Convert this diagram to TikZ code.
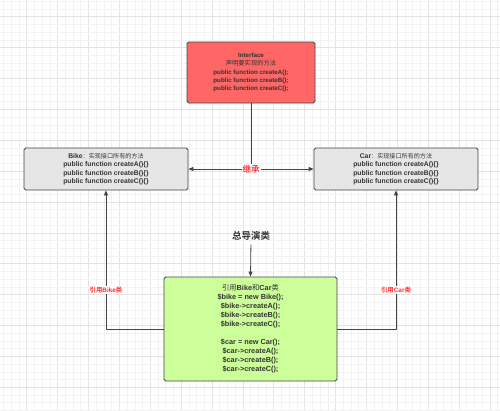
\documentclass[tikz,border=0pt]{standalone}
\usepackage{fontspec}
\setmainfont{Liberation Sans}
\newfontfamily\cjk{Noto Sans CJK SC}[BoldFont={Noto Sans CJK SC Bold}]
\usetikzlibrary{arrows.meta}
\definecolor{ink}{HTML}{333333}
\definecolor{edge}{HTML}{444444}
\definecolor{redfill}{HTML}{FF6666}
\definecolor{grayfill}{HTML}{E6E6E6}
\definecolor{greenfill}{HTML}{CCFF99}
\definecolor{lblred}{HTML}{FF3333}
\definecolor{gridminor}{HTML}{F2F2F2}
\definecolor{gridmajor}{HTML}{E4E4E4}
\begin{document}
\begin{tikzpicture}[x=1pt,y=-1pt,
  box/.style={draw=edge, line width=0.8pt, rounded corners=1.8pt, align=center,
    inner sep=0pt, text=ink},
  conn/.style={draw=edge, line width=0.8pt},
  tip/.style={-{Triangle[length=5pt,width=4pt]}},
  lbl/.style={fill=white, text=lblred, inner sep=1pt, font=\bfseries\fontsize{6.4}{7}\selectfont}]
\useasboundingbox (0,0) rectangle (500,410);
\fill[white] (0,0) rectangle (500,410);
% grid
\foreach \k in {-3,...,61} {
  \pgfmathsetmacro{\xx}{26.7+\k*7.72}
  \pgfmathtruncatemacro{\m}{mod(\k+40,4)}
  \ifnum\m=0 \draw[gridmajor,line width=0.5pt] (\xx,0) -- (\xx,410);
  \else \draw[gridminor,line width=0.5pt] (\xx,0) -- (\xx,410); \fi
}
\foreach \k in {-2,...,51} {
  \pgfmathsetmacro{\yy}{16.7+\k*7.72}
  \pgfmathtruncatemacro{\m}{mod(\k+40,4)}
  \ifnum\m=0 \draw[gridmajor,line width=0.5pt] (0,\yy) -- (500,\yy);
  \else \draw[gridminor,line width=0.5pt] (0,\yy) -- (500,\yy); \fi
}
% boxes
\node[box, fill=redfill, minimum width=128pt, minimum height=61pt,
  font=\bfseries\fontsize{6.2}{8.2}\selectfont] (iface) at (251,72.5)
  {Interface\\{\cjk\mdseries\fontsize{6.3}{8.2}\selectfont 声明要实现的方法}\\public function createA();\\public function createB();\\public function createC();};
\node[box, fill=grayfill, minimum width=164pt, minimum height=42pt,
  font=\bfseries\fontsize{6.8}{8.3}\selectfont] (bike) at (106,169)
  {Bike{\cjk\mdseries\fontsize{6.1}{8.3}\selectfont ：实现接口所有的方法}\\public function createA()\{\}\\public function createB()\{\}\\public function createC()\{\}};
\node[box, fill=grayfill, minimum width=164pt, minimum height=42pt,
  font=\bfseries\fontsize{6.8}{8.3}\selectfont] (car) at (396,169)
  {Car{\cjk\mdseries\fontsize{6.1}{8.3}\selectfont ：实现接口所有的方法}\\public function createA()\{\}\\public function createB()\{\}\\public function createC()\{\}};
\node[box, fill=greenfill, minimum width=173pt, minimum height=104pt,
  font=\bfseries\fontsize{7.3}{9}\selectfont] (main) at (250.5,329)
  {{\cjk\mdseries 引用}Bike{\cjk\mdseries 和}Car{\cjk\mdseries 类}\\\$bike = new Bike();\\\$bike->createA();\\\$bike->createB();\\\$bike->createC();\\[9pt]%
   \$car = new Car();\\\$car->createA();\\\$car->createB();\\\$car->createC();};
\node[text=ink, font=\cjk\bfseries\fontsize{9.5}{10}\selectfont, inner sep=0pt] (dir) at (251,236) {总导演类};
\coordinate (inh) at (iface.south |- bike.east);
% connectors
\draw[conn] (iface.south) -- (inh);
\draw[conn, {Triangle[length=5pt,width=4pt]}-{Triangle[length=5pt,width=4pt]}] (bike.east) -- (car.west)
  node[midway, lbl, font=\cjk\bfseries\fontsize{8.5}{9}\selectfont] {继承};
\draw[conn, tip, shorten <=4pt] (dir.south) -- (main.north);
\draw[conn, tip] (main.west) -| (bike.south) node[pos=0.64, lbl] {{\cjk 引用}Bike{\cjk 类}};
\draw[conn, tip] (main.east) -| (car.south) node[pos=0.64, lbl] {{\cjk 引用}Car{\cjk 类}};
\end{tikzpicture}
\end{document}
